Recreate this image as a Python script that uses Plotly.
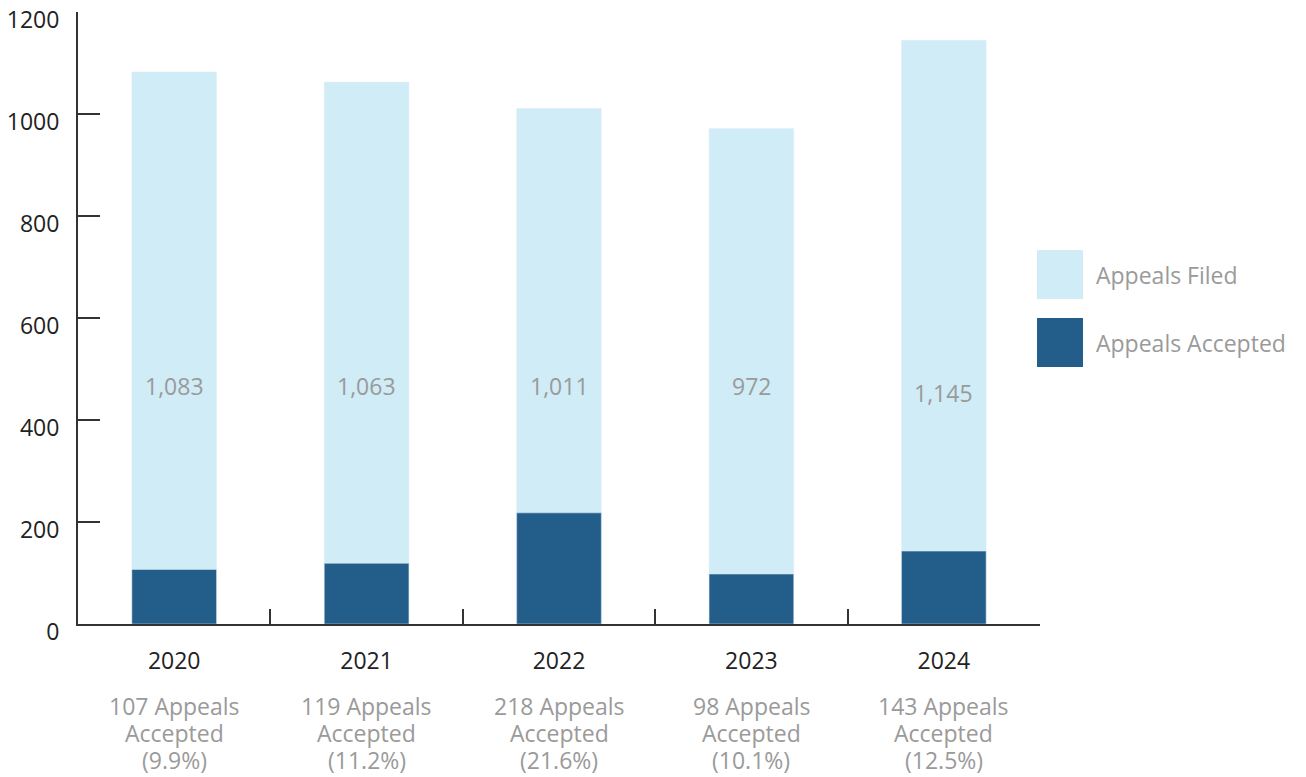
import plotly.graph_objects as go

years = ["2020", "2021", "2022", "2023", "2024"]
filed = [1083, 1063, 1011, 972, 1145]
accepted = [107, 119, 218, 98, 143]
filed_labels = ["1,083", "1,063", "1,011", "972", "1,145"]
label_y = [467, 467, 467, 467, 453]
accepted_pct = ["9.9%", "11.2%", "21.6%", "10.1%", "12.5%"]
y_ticks = [0, 200, 400, 600, 800, 1000, 1200]

LIGHT = "#cfecf7"
DARK = "#235e8a"
GRAY = "#9a9a9a"
AXIS = "#333333"
FONT = "Open Sans"

fig = go.Figure()
fig.add_trace(go.Bar(x=years, y=filed, name="Appeals Filed", marker_color=LIGHT,
                     width=0.44, showlegend=False, hoverinfo="skip"))
fig.add_trace(go.Bar(x=years, y=accepted, name="Appeals Accepted", marker_color=DARK,
                     width=0.44, showlegend=False, hoverinfo="skip"))

for i, (lab, ly) in enumerate(zip(filed_labels, label_y)):
    fig.add_annotation(x=i, xref="x", yref="y", y=ly, text=lab, showarrow=False,
                       font=dict(family=FONT, size=23, color=GRAY))

line_ys = [-0.134, -0.178, -0.222]
for i, (a, p) in enumerate(zip(accepted, accepted_pct)):
    lines = [f"{a} Appeals", "Accepted", f"({p})"]
    for txt, ly in zip(lines, line_ys):
        fig.add_annotation(x=i, xref="x", yref="paper", y=ly, yanchor="middle",
                           text=txt, showarrow=False,
                           font=dict(family=FONT, size=23, color=GRAY))

# legend
legend_items = [("Appeals Filed", LIGHT, 0.6111, 0.5310),
                ("Appeals Accepted", DARK, 0.5000, 0.4199)]
for name, col, y1, y0 in legend_items:
    fig.add_shape(type="rect", xref="paper", yref="paper", x0=0.9969, x1=1.0447,
                  y0=y0, y1=y1, fillcolor=col, line_width=0)
    fig.add_annotation(xref="paper", yref="paper", x=1.0561, y=(y0 + y1) / 2,
                       xanchor="left", yanchor="middle", text=name, showarrow=False,
                       font=dict(family=FONT, size=23, color=GRAY))

fig.update_layout(
    width=1306, height=777,
    margin=dict(l=78, r=266, t=12, b=153, autoexpand=False),
    barmode="overlay",
    plot_bgcolor="white", paper_bgcolor="white",
    font=dict(family=FONT, size=22, color="#222222"),
    xaxis=dict(type="category", range=[-0.5, 4.5], showline=True, linecolor=AXIS,
               linewidth=2, ticks="inside", ticklen=15, tickwidth=2, tickcolor=AXIS,
               tickson="boundaries", ticklabelstandoff=15, tickangle=0,
               automargin=False,
               tickfont=dict(family=FONT, size=23, color="#222222"),
               showgrid=False, zeroline=False, fixedrange=True),
    yaxis=dict(range=[0, 1200.5], tickvals=y_ticks, showline=True, linecolor=AXIS,
               linewidth=2, ticks="inside", ticklen=22, tickwidth=2, tickcolor=AXIS,
               ticklabelstandoff=12, ticklabelshift=8, automargin=False,
               tickfont=dict(family=FONT, size=23, color="#222222"),
               showgrid=False, zeroline=False, fixedrange=True),
)

fig.write_html("out.html", config={"displayModeBar": False},
               post_script="document.body.style.margin='0';")
